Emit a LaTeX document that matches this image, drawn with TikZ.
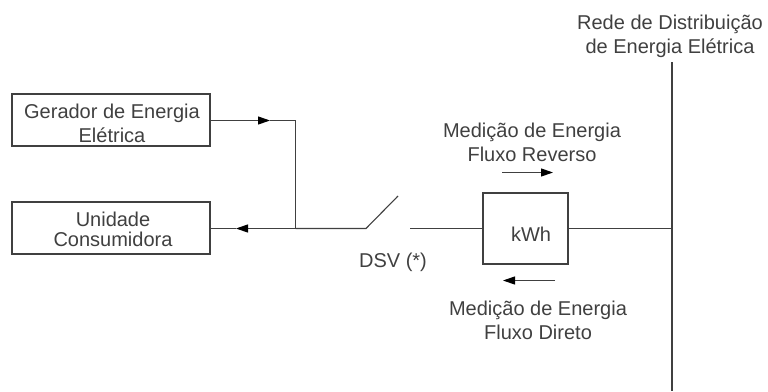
\documentclass[tikz,border=0pt]{standalone}
\usepackage{fontspec}
\setmainfont{Liberation Sans}
\usetikzlibrary{arrows.meta,calc}
\tikzset{
 linha/.style={draw=black!75,line width=1.1pt},
 caixa/.style={linha,fill=white,minimum width=198pt,minimum height=52pt,inner sep=0pt},
 rotulo/.style={align=center,text=black!75,inner sep=0pt},
 seta/.style={linha,-{Triangle[length=12pt,width=8pt,color=black]}},
}
\begin{document}
\begin{tikzpicture}[x=1pt,y=-1pt,font=\fontsize{20}{24}\selectfont]
 \useasboundingbox (0,0) rectangle (768,391);
 \node[caixa] (gerador) at (111,120) {};
 \node[caixa] (unidade) at (111,228) {};
 \node[linha,minimum width=85pt,minimum height=71pt,inner sep=0pt] (medidor) at (525.5,228.5) {};
 \node[rotulo] (txtgerador) at (112,123) {Gerador de Energia\\Elétrica};
 \node[rotulo,font=\fontsize{20}{20}\selectfont] (txtunidade) at (113,229) {Unidade\\Consumidora};
 \node[rotulo] (kwh) at (531,234) {kWh};
 \coordinate (juncao) at (295.5,228.5);
 \coordinate (canto) at (295.5,120.5);
 \coordinate (polo) at (366,228.5);
 \coordinate (contato) at (398,196);
 \coordinate (fixo) at (410,228.5);
 \coordinate (barrasup) at (672,62);
 \coordinate (barrainf) at (672,391);
 \coordinate (barrameio) at (672,228.5);
 % setas no meio dos ramais
 \coordinate (pontager) at (270,120.5);
 \coordinate (pontauni) at (236,228.5);
 \draw[seta] (gerador.east |- pontager) -- (pontager);
 \draw[linha] (pontager) -- (canto) -- (juncao);
 \draw[seta] (juncao) -- (pontauni);
 \draw[linha] (pontauni) -- (unidade.east |- pontauni);
 \draw[linha] (juncao) -- (polo) -- (contato);
 \draw[linha] (fixo) -- (medidor.west);
 \draw[linha] (medidor.east) -- (barrameio);
 \draw[linha,line width=1.5pt] (barrasup) -- (barrainf);
 \node[rotulo] (dsv) at (393,262) {DSV (*)};
 \node[rotulo] (rede) at (670,36) {Rede de Distribuição\\de Energia Elétrica};
 \node[rotulo] (reverso) at (532,142) {Medição de Energia\\Fluxo Reverso};
 \node[rotulo] (direto) at (538,320) {Medição de Energia\\Fluxo Direto};
 \coordinate (revini) at (502,172.5);
 \coordinate (revfim) at (553,172.5);
 \coordinate (dirini) at (555,280.5);
 \coordinate (dirfim) at (503,280.5);
 \draw[seta] (revini) -- (revfim);
 \draw[seta] (dirini) -- (dirfim);
\end{tikzpicture}
\end{document}
